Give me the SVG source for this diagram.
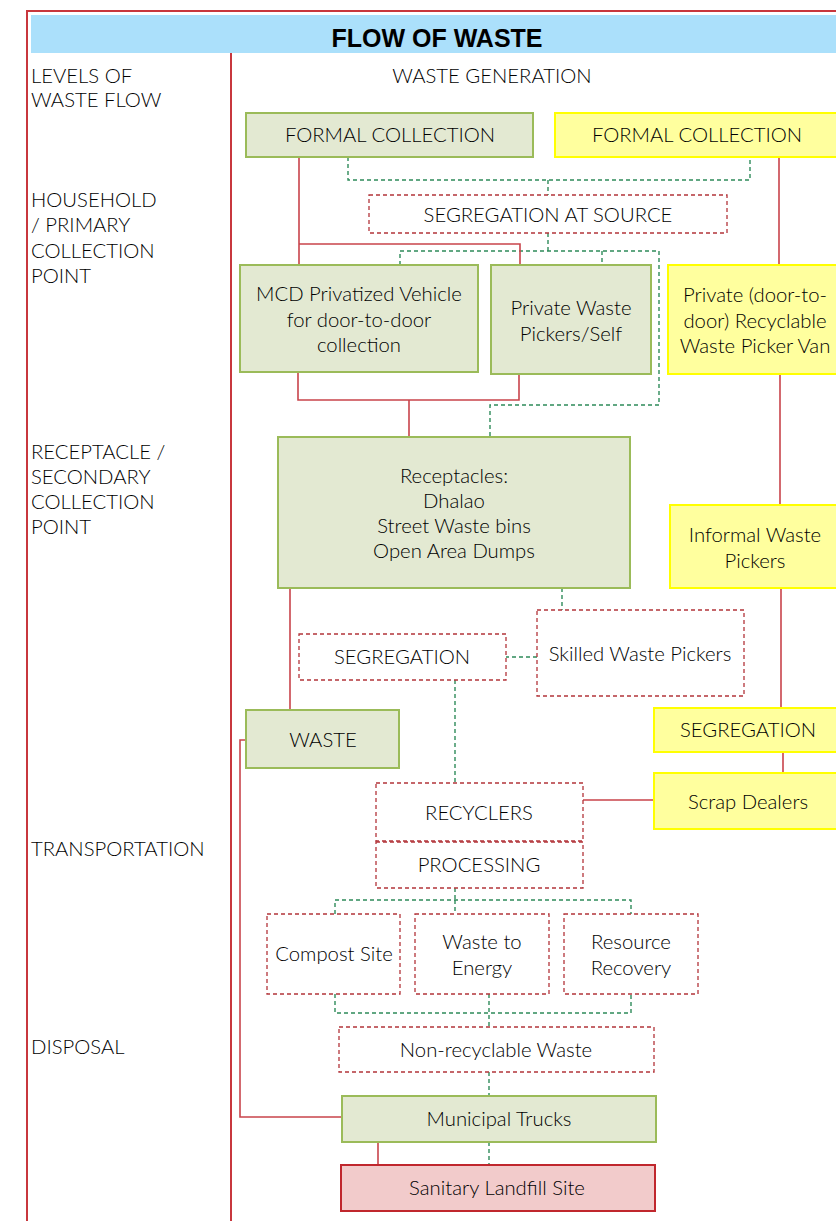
<svg xmlns="http://www.w3.org/2000/svg" width="836" height="1221" viewBox="0 0 836 1221">
<style>
text{font-family:Lato,"Liberation Sans",sans-serif;font-size:20.3px;font-weight:300;fill:#000;text-anchor:middle}
.lbl{text-anchor:start}
.g{fill:#e3e9d2;stroke:#9bbb59;stroke-width:2}
.y{fill:#ffff9e;stroke:#ffff00;stroke-width:2}
.d{fill:#fff;stroke:#b3343a;stroke-width:1.3;stroke-dasharray:4 3}
.p{fill:#f2cbcb;stroke:#c0272d;stroke-width:2}
.r{fill:none;stroke:#c9444b;stroke-width:1.6}
.gd{fill:none;stroke:#2e8b5a;stroke-width:1.4;stroke-dasharray:4 3}
.frame{fill:none;stroke:#c8373d;stroke-width:2}
</style>
<rect width="836" height="1221" fill="#fff"/>
<g id="frame">
<path class="frame" d="M27,1221 V11 H836"/>
<rect x="31" y="15" width="805" height="38" fill="#abe0fb"/>
<text x="437" y="47" style="font-family:'Liberation Sans',sans-serif;font-weight:bold;font-size:25px;fill:#000">FLOW OF WASTE</text>
<path class="frame" d="M231,53 V1221"/>
</g>
<g id="levels">
<text class="lbl" x="31" y="83">LEVELS OF</text>
<text class="lbl" x="31" y="107">WASTE FLOW</text>
<text class="lbl" x="31" y="207">HOUSEHOLD</text>
<text class="lbl" x="31" y="232">/ PRIMARY</text>
<text class="lbl" x="31" y="258">COLLECTION</text>
<text class="lbl" x="31" y="283">POINT</text>
<text class="lbl" x="31" y="459">RECEPTACLE /</text>
<text class="lbl" x="31" y="484">SECONDARY</text>
<text class="lbl" x="31" y="509">COLLECTION</text>
<text class="lbl" x="31" y="534">POINT</text>
<text class="lbl" x="31" y="856">TRANSPORTATION</text>
<text class="lbl" x="31" y="1054">DISPOSAL</text>
<text x="492" y="83">WASTE GENERATION</text>
</g>
<g id="connectors">
<path class="gd" d="M348,157 V180 H750 V157 M548,180 V195"/>
<path class="gd" d="M548,233 V251 M400,265 V251 H659 V405 H490 V437 M602,251 V265"/>
<path class="r" d="M299,157 V265 M299,244 H520 V265"/>
<path class="r" d="M779,157 V265 M780,374 V505 M781,588 V708 M783,752 V773 M654,800 H583"/>
<path class="r" d="M298,372 V400 H519 V374 M409,400 V437"/>
<path class="r" d="M290,588 V710 M246,740 H240 V1117 H342 M378,1142 V1165"/>
<path class="gd" d="M562,588 V610 M537,657 H506 M455,680 V783 M455,826 V842"/>
<path class="gd" d="M455,888 V900 M335,914 V900 H631 V914 M455,900 V914"/>
<path class="gd" d="M335,994 V1013 H631 V994 M489,994 V1027 M489,1072 V1096 M489,1142 V1165"/>
</g>
<g id="formal-green"><rect class="g" x="246" y="113" width="287" height="44"/><text x="390" y="142">FORMAL COLLECTION</text></g>
<g id="formal-yellow"><rect class="y" x="555" y="113" width="290" height="44"/><text x="697" y="142">FORMAL COLLECTION</text></g>
<g id="seg-source"><rect class="d" x="369" y="195" width="358" height="38"/><text x="548" y="222">SEGREGATION AT SOURCE</text></g>
<g id="mcd"><rect class="g" x="240" y="265" width="238" height="107"/><text x="359" y="301">MCD Privatized Vehicle<tspan x="359" dy="25.5">for door-to-door</tspan><tspan x="359" dy="25.5">collection</tspan></text></g>
<g id="private-pickers"><rect class="g" x="491" y="265" width="160" height="109"/><text x="571" y="315">Private Waste<tspan x="571" dy="25.5">Pickers/Self</tspan></text></g>
<g id="private-van"><rect class="y" x="668" y="265" width="177" height="109"/><text x="755" y="302">Private (door-to-<tspan x="755" dy="25.5">door) Recyclable</tspan><tspan x="755" dy="25.5">Waste Picker Van</tspan></text></g>
<g id="receptacles"><rect class="g" x="278" y="437" width="352" height="151"/><text x="454" y="483">Receptacles:<tspan x="454" dy="25">Dhalao</tspan><tspan x="454" dy="25">Street Waste bins</tspan><tspan x="454" dy="25">Open Area Dumps</tspan></text></g>
<g id="informal"><rect class="y" x="670" y="505" width="175" height="83"/><text x="755" y="542">Informal Waste<tspan x="755" dy="25.5">Pickers</tspan></text></g>
<g id="skilled"><rect class="d" x="537" y="610" width="207" height="86"/><text x="640" y="661">Skilled Waste Pickers</text></g>
<g id="segregation"><rect class="d" x="299" y="634" width="207" height="46"/><text x="402" y="664">SEGREGATION</text></g>
<g id="waste"><rect class="g" x="246" y="710" width="153" height="58"/><text x="323" y="747">WASTE</text></g>
<g id="seg-yellow"><rect class="y" x="654" y="708" width="191" height="44"/><text x="748" y="737">SEGREGATION</text></g>
<g id="scrap"><rect class="y" x="654" y="773" width="191" height="56"/><text x="748" y="809">Scrap Dealers</text></g>
<g id="recyclers"><rect class="d" x="376" y="783" width="207" height="58"/><text x="479" y="820">RECYCLERS</text></g>
<g id="processing"><rect class="d" x="376" y="842" width="207" height="46"/><text x="479" y="872">PROCESSING</text></g>
<g id="compost"><rect class="d" x="267" y="914" width="133" height="80"/><text x="334" y="961">Compost Site</text></g>
<g id="wte"><rect class="d" x="415" y="914" width="134" height="80"/><text x="482" y="949">Waste to<tspan x="482" dy="25.5">Energy</tspan></text></g>
<g id="resource"><rect class="d" x="564" y="914" width="134" height="80"/><text x="631" y="949">Resource<tspan x="631" dy="25.5">Recovery</tspan></text></g>
<g id="nonrecyclable"><rect class="d" x="339" y="1027" width="315" height="45"/><text x="496" y="1057">Non-recyclable Waste</text></g>
<g id="trucks"><rect class="g" x="342" y="1096" width="314" height="46"/><text x="499" y="1126">Municipal Trucks</text></g>
<g id="landfill"><rect class="p" x="341" y="1165" width="314" height="46"/><text x="497" y="1195">Sanitary Landfill Site</text></g>
</svg>
